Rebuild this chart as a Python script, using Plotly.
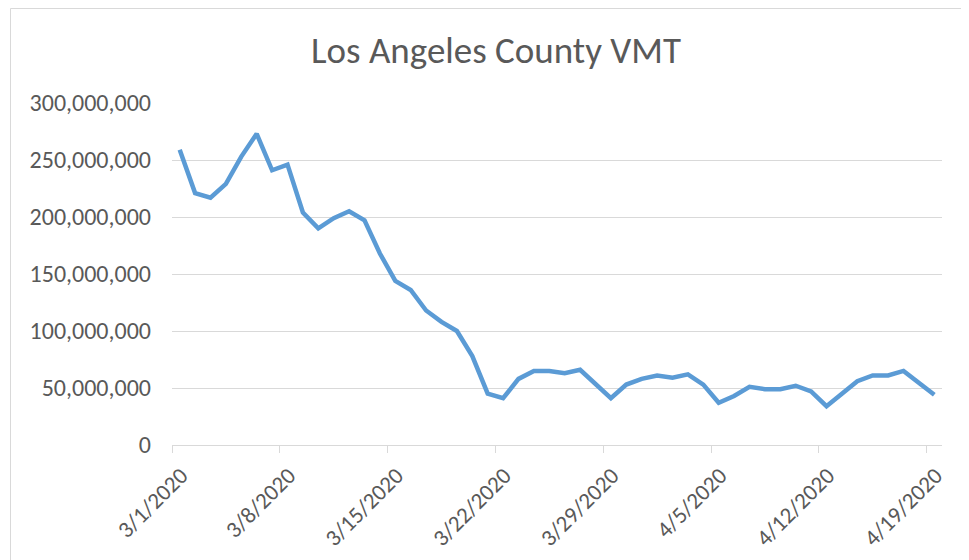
import pandas as pd
import plotly.graph_objects as go

dates = pd.date_range("2020-03-01", "2020-04-19", freq="D")
vmt_millions = [
    259, 221, 217, 229, 253, 273, 241, 246, 204, 190,
    199, 205, 197, 168, 144, 136, 118, 108, 100, 78,
    45, 41, 58, 65, 65, 63, 66, 53, 41, 53,
    58, 61, 59, 62, 53, 37, 43, 51, 49, 49,
    52, 47, 34, 45, 56, 61, 61, 65, 54, 44,
]
vmt = [v * 1_000_000 for v in vmt_millions]
tick_dates = pd.date_range("2020-03-01", "2020-04-19", freq="7D")
tick_labels = [f"{d.month}/{d.day}/{d.year}" for d in tick_dates]

FONT = "Carlito, Calibri, Lato, 'Open Sans', sans-serif"

# Excel places each day's point in the middle of its day slot
x_mid = dates + pd.Timedelta(hours=12)

fig = go.Figure()
fig.add_trace(go.Scatter(
    x=x_mid, y=vmt, mode="lines",
    line=dict(color="#5B9BD5", width=4.5),
    hoverinfo="x+y",
))

# page has an 8px body margin, so the figure is sized to fit inside it
W, H = 961, 552
L, R, T = 164, 27, 95
pw, ph = W - L - R, 342
B = H - T - ph

fig.update_layout(
    width=W, height=H,
    margin=dict(l=L, r=R, t=T, b=B, autoexpand=False),
    paper_bgcolor="white", plot_bgcolor="white",
    showlegend=False,
    title=dict(text="Los Angeles County VMT", x=488 / W, xanchor="center",
               y=1 - 42 / H, yanchor="middle",
               font=dict(family=FONT, size=37, color="#595959")),
    font=dict(family=FONT, color="#595959"),
    xaxis=dict(
        type="date", automargin=False,
        range=[dates[0], dates[-1] + pd.Timedelta(days=1)],
        tickvals=list(tick_dates), ticktext=tick_labels,
        tickangle=-45, tickfont=dict(size=23, color="#595959"),
        ticklabelshift=9, ticklabelstandoff=0,
        showgrid=False, showline=True, linecolor="#d9d9d9", linewidth=1,
        ticks="outside", ticklen=7, tickcolor="#d9d9d9",
        zeroline=False,
    ),
    yaxis=dict(
        automargin=False,
        range=[0, 300_000_000], dtick=50_000_000, tickformat=",",
        tickfont=dict(size=24, color="#595959"),
        ticklabelstandoff=20,
        showgrid=True, gridcolor="#d9d9d9", gridwidth=1,
        zeroline=False, showline=False, ticks="", ticklen=0,
    ),
    shapes=[dict(
        type="rect", xref="paper", yref="paper",
        x0=(2.5 - L) / pw, x1=(W + 20 - L) / pw,
        y0=(ph + T - (H + 20)) / ph, y1=(ph + T - 0.5) / ph,
        line=dict(color="#d9d9d9", width=1), fillcolor="rgba(0,0,0,0)",
        layer="below",
    )],
)

fig.write_html("out.html")
